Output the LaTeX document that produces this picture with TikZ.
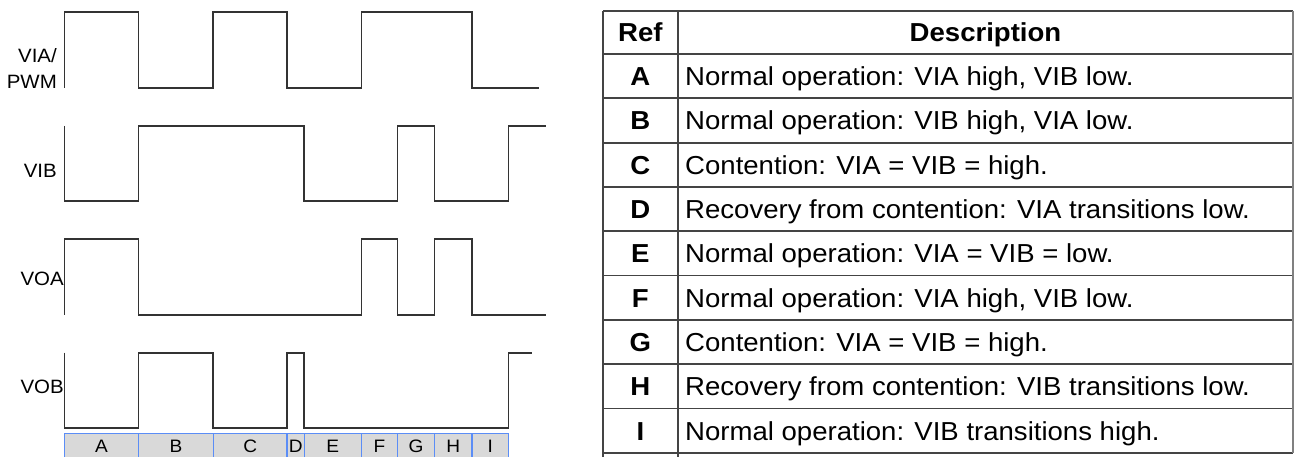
\documentclass[tikz,border=0pt]{standalone}
\usepackage{fontspec}
\setmainfont{Liberation Sans}[FakeStretch=1.06]
\definecolor{wavecol}{HTML}{333333}
\definecolor{gridcol}{HTML}{444444}
\definecolor{barblue}{HTML}{5B8DF6}
\definecolor{barfill}{HTML}{D9D9D9}
\begin{document}
\begin{tikzpicture}[x=1pt,y=-1pt,
  wave/.style={draw=wavecol, line width=1.7pt, line join=miter},
  sig/.style={font=\fontsize{19.3}{21}\selectfont, anchor=east, inner sep=0pt, text height=13.8pt, text depth=0pt},
  barlbl/.style={font=\fontsize{18}{20}\selectfont, inner sep=0pt, text height=12.9pt, text depth=0pt},
  tline/.style={draw=gridcol, line width=1.7pt},
  reflbl/.style={font=\fontsize{26}{28}\selectfont\bfseries, inner sep=0pt, text height=18.6pt, text depth=0pt},
  desc/.style={font=\fontsize{26}{28}\selectfont, anchor=west, inner sep=0pt, text height=18.6pt, text depth=0pt}]
\useasboundingbox (0,0) rectangle (1294,457);
\fill[white] (0,0) rectangle (1294,457);

% signal labels
\node[sig] (lvia) at (57,56) {VIA/};
\node[sig] (lpwm) at (57,82) {PWM};
\node[sig] (lvib) at (57,171) {VIB};
\node[sig] (lvoa) at (64,279) {VOA};
\node[sig] (lvob) at (64,387) {VOB};

% waveforms
\draw[wave] (64.6,87.7) -- (64.6,12.3) -- (138.6,12.3) -- (138.6,87.7) -- (213.2,87.7) -- (213.2,12.3) -- (287.1,12.3) -- (287.1,87.7) -- (361.4,87.7) -- (361.4,12.3) -- (472.1,12.3) -- (472.1,87.7) -- (538.6,87.7);
\draw[wave] (64.6,126) -- (64.6,201) -- (138.6,201) -- (138.6,126) -- (304.3,126) -- (304.3,201) -- (397.5,201) -- (397.5,126) -- (434.6,126) -- (434.6,201) -- (508.6,201) -- (508.6,126) -- (546.4,126);
\draw[wave] (64.6,315) -- (64.6,239.3) -- (138.6,239.3) -- (138.6,315) -- (361.4,315) -- (361.4,239.3) -- (397.5,239.3) -- (397.5,315) -- (434.6,315) -- (434.6,239.3) -- (472.1,239.3) -- (472.1,315) -- (546.4,315);
\draw[wave] (64.6,352.7) -- (64.6,428.3) -- (138.6,428.3) -- (138.6,352.7) -- (213.2,352.7) -- (213.2,428.3) -- (287.1,428.3) -- (287.1,352.7) -- (304.3,352.7) -- (304.3,428.3) -- (508.6,428.3) -- (508.6,352.7) -- (532,352.7);

% phase bar
\fill[barfill] (64.6,433.3) rectangle (508.6,457);
\draw[barblue, line width=1.4pt] (64.6,457) -- (64.6,433.3) -- (508.6,433.3) -- (508.6,457);
\foreach \x in {138.6,213.2,287.1,304.3,361.4,397.5,434.6,472.1}
  \draw[barblue, line width=1.4pt] (\x,433.3) -- (\x,457);
\node[barlbl] (pA) at (101.6,446) {A};
\node[barlbl] (pB) at (175.9,446) {B};
\node[barlbl] (pC) at (250.15,446) {C};
\node[barlbl] (pD) at (295.7,446) {D};
\node[barlbl] (pE) at (332.85,446) {E};
\node[barlbl] (pF) at (379.45,446) {F};
\node[barlbl] (pG) at (416.05,446) {G};
\node[barlbl] (pH) at (453.35,446) {H};
\node[barlbl] (pI) at (490.35,446) {I};

% table grid
\draw[tline] (603,11) -- (1293,11);
\foreach \k in {0,...,9}
  \draw[tline] (603,{54+44.33*\k}) -- (1293,{54+44.33*\k});
\draw[tline] (603,11) -- (603,457);
\draw[tline] (677.7,11) -- (677.7,457);
\draw[draw=gray, line width=1.2pt] (1293,11) -- (1293,453);

% header
\node[reflbl] (href) at (640.4,32.5) {Ref};
\node[reflbl] (hdesc) at (985.5,32.5) {Description};

% rows
\foreach \r/\t [count=\k from 0] in {
  A/{Normal operation: VIA high, VIB low.},
  B/{Normal operation: VIB high, VIA low.},
  C/{Contention: VIA = VIB = high.},
  D/{Recovery from contention: VIA transitions low.},
  E/{Normal operation: VIA = VIB = low.},
  F/{Normal operation: VIA high, VIB low.},
  G/{Contention: VIA = VIB = high.},
  H/{Recovery from contention: VIB transitions low.},
  I/{Normal operation: VIB transitions high.}}
{
  \node[reflbl] (r\r) at (640.4,{54+44.33*(\k+0.5)}) {\r};
  \node[desc] (d\r) at (685,{54+44.33*(\k+0.5)}) {\t};
}
\end{tikzpicture}
\end{document}
